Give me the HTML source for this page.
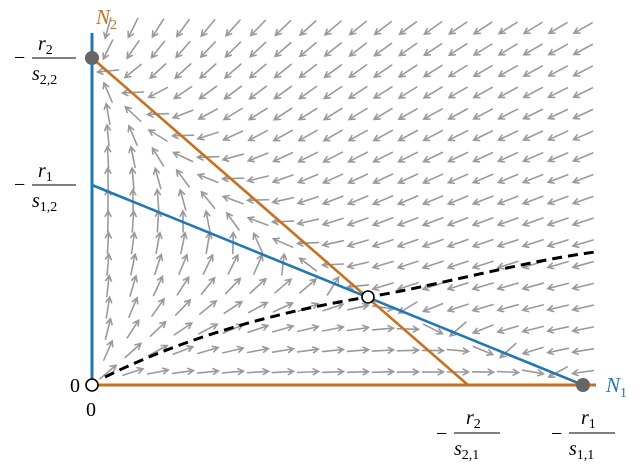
<!DOCTYPE html>
<html><head><meta charset="utf-8"><style>
body{margin:0;background:#fff}
svg text{font-family:"Liberation Serif",serif}
</style></head><body>
<svg id="s" width="643" height="463" viewBox="0 0 643 463" xmlns="http://www.w3.org/2000/svg">
<g id="arrows" stroke="#9a9a9a" stroke-width="1.6" fill="none" stroke-linecap="round"></g>
<line x1="92" y1="385" x2="596" y2="385" stroke="#c8701e" stroke-width="3"/>
<line x1="92" y1="385" x2="92" y2="33" stroke="#1f78b4" stroke-width="3"/>
<line x1="92" y1="58" x2="468" y2="385" stroke="#c8701e" stroke-width="2.6"/>
<line x1="92" y1="185" x2="583" y2="385" stroke="#1f78b4" stroke-width="2.6"/>
<path d="M105,377 C200,330 300,308 368,297 S520,262 595,252" stroke="#000" stroke-width="3" fill="none" stroke-dasharray="10,6"/>
<circle cx="92" cy="58" r="7" fill="#666"/>
<circle cx="583" cy="385" r="7" fill="#666"/>
<circle cx="368" cy="297" r="6" fill="#fff" stroke="#000" stroke-width="1.6"/>
<circle cx="92" cy="385" r="6" fill="#fff" stroke="#000" stroke-width="1.6"/>
<text x="96" y="24" font-size="21" font-style="italic" fill="#c8701e">N<tspan font-size="14" dy="5" font-style="normal">2</tspan></text>
<text x="606" y="392" font-size="21" font-style="italic" fill="#1f78b4">N<tspan font-size="14" dy="5" font-style="normal">1</tspan></text>
<g font-size="20" fill="#000">
<text x="70" y="392">0</text>
<text x="86" y="416">0</text>
<text x="14" y="64">−</text><text x="38" y="50" font-style="italic">r<tspan font-size="14" dy="4" font-style="normal">2</tspan></text>
<line x1="32" y1="58" x2="76" y2="58" stroke="#000" stroke-width="1"/>
<text x="32" y="80" font-style="italic">s<tspan font-size="14" dy="4" font-style="normal">2,2</tspan></text>
<text x="14" y="191">−</text><text x="38" y="177" font-style="italic">r<tspan font-size="14" dy="4" font-style="normal">1</tspan></text>
<line x1="32" y1="185" x2="76" y2="185" stroke="#000" stroke-width="1"/>
<text x="32" y="207" font-style="italic">s<tspan font-size="14" dy="4" font-style="normal">1,2</tspan></text>
<text x="436" y="440">−</text><text x="466" y="424" font-style="italic">r<tspan font-size="14" dy="4" font-style="normal">2</tspan></text>
<line x1="454" y1="433" x2="500" y2="433" stroke="#000" stroke-width="1"/>
<text x="454" y="455" font-style="italic">s<tspan font-size="14" dy="4" font-style="normal">2,1</tspan></text>
<text x="551" y="440">−</text><text x="581" y="424" font-style="italic">r<tspan font-size="14" dy="4" font-style="normal">1</tspan></text>
<line x1="569" y1="433" x2="615" y2="433" stroke="#000" stroke-width="1"/>
<text x="569" y="455" font-style="italic">s<tspan font-size="14" dy="4" font-style="normal">1,1</tspan></text>
</g>
</svg>
<script>
var g=document.getElementById('arrows'),h='';
for(var py=28;py<=380;py+=21.5){for(var px=108;px<=592;px+=25){
var x=(px-92)/491,y=(385-py)/327;
var dx=1.5*x*(1-x-1.634*y),dy=y*(1-y-1.306*x);
var m=Math.hypot(dx,dy);if(m<1e-9)continue;
var ux=dx/m,uy=-dy/m,L=10.5;
var x1=px-ux*L,y1=py-uy*L,x2=px+ux*L,y2=py+uy*L;
var a=0.5,hl=6;
var hx1=x2-hl*(ux*Math.cos(a)-uy*Math.sin(a)),hy1=y2-hl*(uy*Math.cos(a)+ux*Math.sin(a));
var hx2=x2-hl*(ux*Math.cos(-a)-uy*Math.sin(-a)),hy2=y2-hl*(uy*Math.cos(-a)+ux*Math.sin(-a));
h+='<path d="M'+x1.toFixed(1)+','+y1.toFixed(1)+'L'+x2.toFixed(1)+','+y2.toFixed(1)+'M'+hx1.toFixed(1)+','+hy1.toFixed(1)+'L'+x2.toFixed(1)+','+y2.toFixed(1)+'L'+hx2.toFixed(1)+','+hy2.toFixed(1)+'"/>';
}}
g.innerHTML=h;
</script>
</body></html>
